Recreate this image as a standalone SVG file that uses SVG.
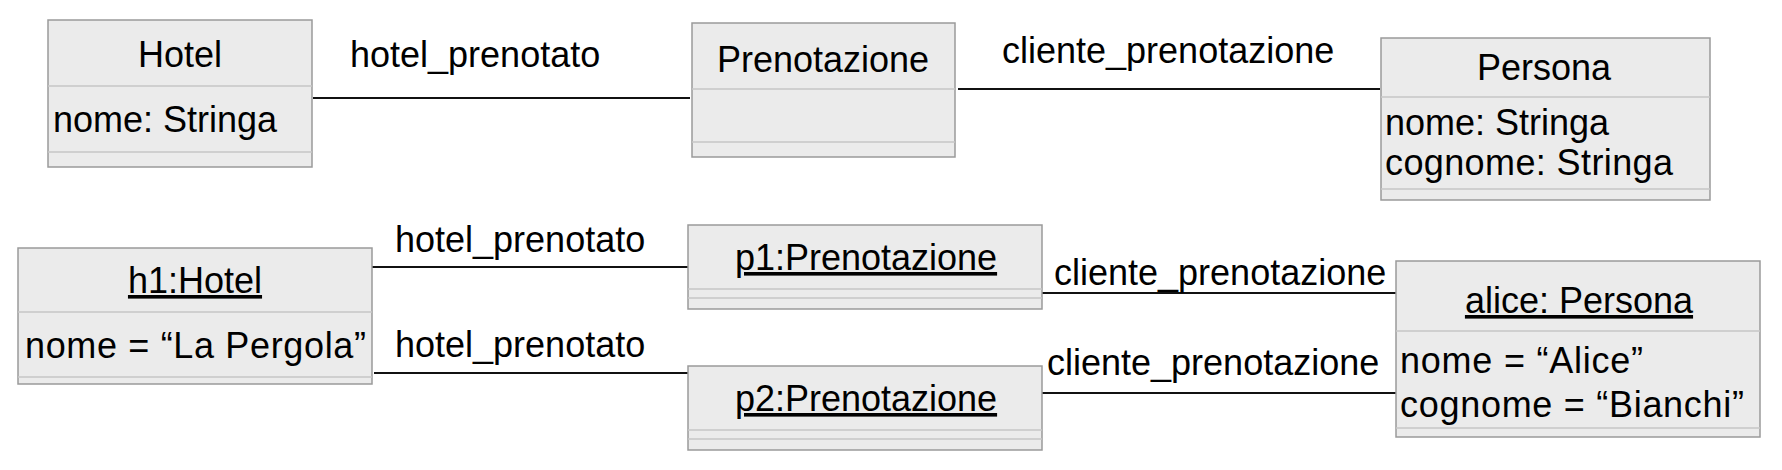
<svg xmlns="http://www.w3.org/2000/svg" width="1782" height="470" viewBox="0 0 1782 470">
<style>
.box{fill:#ebebeb;stroke:#9a9a9a;stroke-width:1.5}
.sep{stroke:#c6c6c6;stroke-width:1.5}
.t{font-family:"Liberation Sans",Arial,sans-serif;font-size:36px;fill:#000}
.c{text-anchor:middle}
.u{text-decoration:underline}
.conn{stroke:#111;stroke-width:2;fill:none}
</style>
<rect width="1782" height="470" fill="#fff"/>
<g id="connectors">
<line class="conn" x1="313" y1="98" x2="690" y2="98"/>
<line class="conn" x1="958" y1="89" x2="1380" y2="89"/>
<line class="conn" x1="372" y1="267" x2="688" y2="267"/>
<line class="conn" x1="374" y1="373" x2="688" y2="373"/>
<line class="conn" x1="1042" y1="293" x2="1396" y2="293"/>
<line class="conn" x1="1042" y1="393" x2="1396" y2="393"/>
<text class="t" x="350" y="67">hotel_prenotato</text>
<text class="t" x="1002" y="63">cliente_prenotazione</text>
<text class="t" x="395" y="252">hotel_prenotato</text>
<text class="t" x="395" y="357">hotel_prenotato</text>
<text class="t" x="1054" y="285">cliente_prenotazione</text>
<text class="t" x="1047" y="375">cliente_prenotazione</text>
</g>
<g id="hotel">
<rect class="box" x="48" y="20" width="264" height="147"/>
<line class="sep" x1="48" y1="86" x2="312" y2="86"/>
<line class="sep" x1="48" y1="152" x2="312" y2="152"/>
<text class="t c" x="180" y="67">Hotel</text>
<text class="t" x="53" y="132">nome: Stringa</text>
</g>
<g id="prenotazione">
<rect class="box" x="692" y="23" width="263" height="134"/>
<line class="sep" x1="692" y1="89" x2="955" y2="89"/>
<line class="sep" x1="692" y1="142" x2="955" y2="142"/>
<text class="t c" x="823" y="72">Prenotazione</text>
</g>
<g id="persona">
<rect class="box" x="1381" y="38" width="329" height="162"/>
<line class="sep" x1="1381" y1="97" x2="1710" y2="97"/>
<line class="sep" x1="1381" y1="189" x2="1710" y2="189"/>
<text class="t c" x="1544" y="80">Persona</text>
<text class="t" x="1385" y="135">nome: Stringa</text>
<text class="t" x="1385" y="175" textLength="288" lengthAdjust="spacing">cognome: Stringa</text>
</g>
<g id="h1">
<rect class="box" x="18" y="248" width="354" height="136"/>
<line class="sep" x1="18" y1="312" x2="372" y2="312"/>
<line class="sep" x1="18" y1="377" x2="372" y2="377"/>
<text class="t c u" x="195" y="293">h1:Hotel</text>
<text class="t" x="25" y="358" textLength="341" lengthAdjust="spacing">nome = “La Pergola”</text>
</g>
<g id="p1">
<rect class="box" x="688" y="225" width="354" height="84"/>
<line class="sep" x1="688" y1="289" x2="1042" y2="289"/>
<line class="sep" x1="688" y1="298" x2="1042" y2="298"/>
<text class="t c u" x="866" y="270">p1:Prenotazione</text>
</g>
<g id="p2">
<rect class="box" x="688" y="366" width="354" height="84"/>
<line class="sep" x1="688" y1="430" x2="1042" y2="430"/>
<line class="sep" x1="688" y1="439" x2="1042" y2="439"/>
<text class="t c u" x="866" y="411">p2:Prenotazione</text>
</g>
<g id="alice">
<rect class="box" x="1396" y="261" width="364" height="176"/>
<line class="sep" x1="1396" y1="331" x2="1760" y2="331"/>
<line class="sep" x1="1396" y1="428" x2="1760" y2="428"/>
<text class="t c u" x="1579" y="313">alice: Persona</text>
<text class="t" x="1400" y="373" textLength="243" lengthAdjust="spacing">nome = “Alice”</text>
<text class="t" x="1400" y="417" textLength="344" lengthAdjust="spacing">cognome = “Bianchi”</text>
</g>
</svg>
